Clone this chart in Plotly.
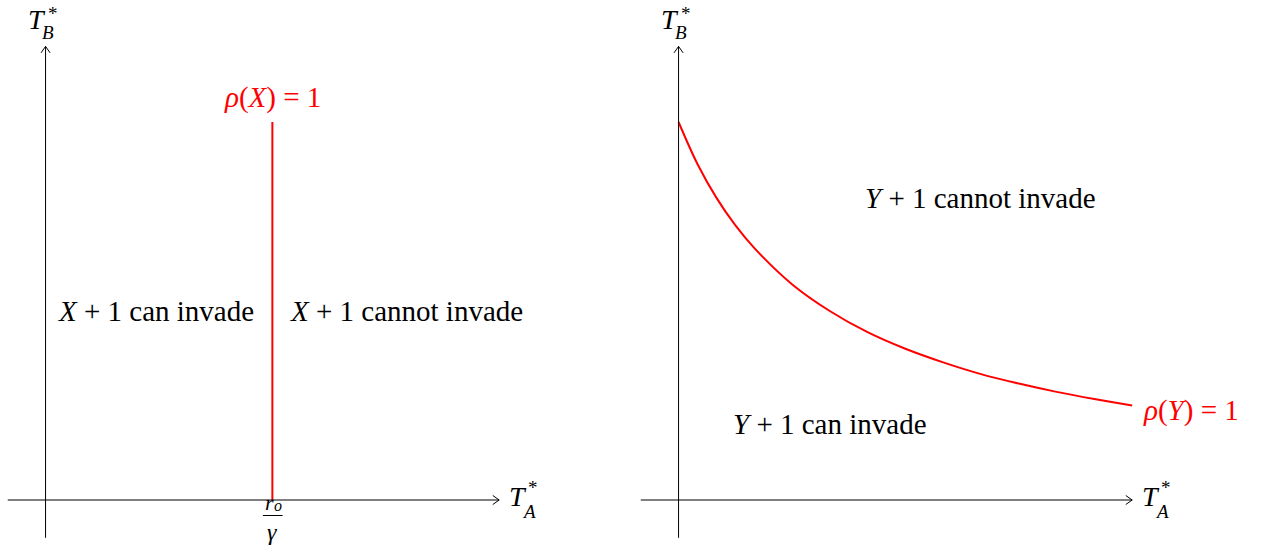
import plotly.graph_objects as go

# Boundary in the left diagram: rho(X) = 1 is the vertical line T_A* = r_o/gamma
x_boundary = [6.0, 6.0]
y_boundary = [0.0, 10.0]

# Boundary in the right diagram: rho(Y) = 1 as a decreasing curve in (T_A*, T_B*)
curve_x = [0, 0.5, 1, 1.5, 2, 3, 4, 5, 6, 7, 8, 9, 10, 11, 12]
curve_y = [10.0, 8.89, 8.0, 7.27, 6.67, 5.71, 5.0, 4.44, 4.0, 3.64, 3.33, 3.08, 2.86, 2.67, 2.5]

# Axis extents of each diagram
axis_min, axis_max = -1.0, 12.0

FONT = "'Liberation Serif', 'Times New Roman', Times, 'DejaVu Serif', serif"
RED = "#ff0000"

fig = go.Figure()

fig.add_trace(go.Scatter(x=x_boundary, y=y_boundary, mode="lines",
                         line=dict(color=RED, width=2), xaxis="x", yaxis="y",
                         showlegend=False, hoverinfo="skip"))
fig.add_trace(go.Scatter(x=curve_x, y=curve_y, mode="lines",
                         line=dict(color=RED, width=2, shape="spline", smoothing=1.0),
                         xaxis="x2", yaxis="y2", showlegend=False, hoverinfo="skip"))

shapes = []
annotations = []


def seg(ref, x0, y0, x1, y1, color="black", width=1):
    shapes.append(dict(type="line", xref=ref[0], yref=ref[1], x0=x0, y0=y0, x1=x1, y1=y1,
                       line=dict(color=color, width=width)))


def label(ref, text, x, y, size=29, color="black", xanchor="center", yanchor="middle"):
    annotations.append(dict(xref=ref[0], yref=ref[1], x=x, y=y, text=text, showarrow=False,
                            xanchor=xanchor, yanchor=yanchor,
                            font=dict(family=FONT, size=size, color=color)))


def axes_with_arrows(ref):
    # horizontal axis and its open arrow tip
    seg(ref, axis_min, 0, axis_max, 0)
    seg(ref, axis_max, 0, axis_max - 0.17, 0.12)
    seg(ref, axis_max, 0, axis_max - 0.17, -0.12)
    # vertical axis and its open arrow tip
    seg(ref, 0, axis_min, 0, axis_max)
    seg(ref, 0, axis_max, 0.12, axis_max - 0.17)
    seg(ref, 0, axis_max, -0.12, axis_max - 0.17)
    # axis names T_A* and T_B* (sub- and superscript stacked)
    label(ref, "<i>T</i>", axis_max + 0.5, 0.1, size=28)
    label(ref, "<i>A</i>", axis_max + 0.8, -0.3, size=19)
    label(ref, "*", axis_max + 0.9, 0.32, size=19)
    label(ref, "<i>T</i>", -0.22, axis_max + 0.72, size=28)
    label(ref, "<i>B</i>", 0.07, axis_max + 0.36, size=19)
    label(ref, "*", 0.2, axis_max + 0.86, size=19)


left = ("x", "y")
right = ("x2", "y2")

axes_with_arrows(left)
axes_with_arrows(right)

# Left diagram labels
label(left, "<i>ρ</i>(<i>X</i>) = 1", x_boundary[0], y_boundary[1] + 0.66, color=RED)
label(left, "<i>X</i> + 1 can invade", 2.92, 5.0)
label(left, "<i>X</i> + 1 cannot invade", 9.55, 5.0)
# tick label r_o / gamma under the boundary
label(left, "<i>r</i>", x_boundary[0] - 0.07, -0.06, size=22)
label(left, "<i>o</i>", x_boundary[0] + 0.15, -0.15, size=16)
seg(left, x_boundary[0] - 0.25, -0.41, x_boundary[0] + 0.27, -0.41, width=1)
label(left, "<i>γ</i>", x_boundary[0], -0.84, size=24)

# Right diagram labels
label(right, "<i>Y</i> + 1 cannot invade", 8.0, 8.0)
label(right, "<i>Y</i> + 1 can invade", 4.0, 2.0)
label(right, "<i>ρ</i>(<i>Y</i>) = 1", curve_x[-1] + 0.23, curve_y[-1] - 0.12,
      color=RED, xanchor="left")

xr = [-1.205, 15.54]
yr = [-1.27, 13.228]
hidden = dict(visible=False, showgrid=False, zeroline=False, fixedrange=True)

fig.update_layout(
    width=1266, height=548,
    margin=dict(l=0, r=0, t=0, b=0),
    font=dict(family=FONT),
    paper_bgcolor="white", plot_bgcolor="white",
    xaxis=dict(domain=[0, 0.5], range=xr, **hidden),
    yaxis=dict(domain=[0, 1], range=yr, **hidden),
    xaxis2=dict(domain=[0.5, 1], range=xr, anchor="y2", **hidden),
    yaxis2=dict(domain=[0, 1], range=yr, anchor="x2", **hidden),
    shapes=shapes,
    annotations=annotations,
    showlegend=False,
)

fig.write_html("out.html")
